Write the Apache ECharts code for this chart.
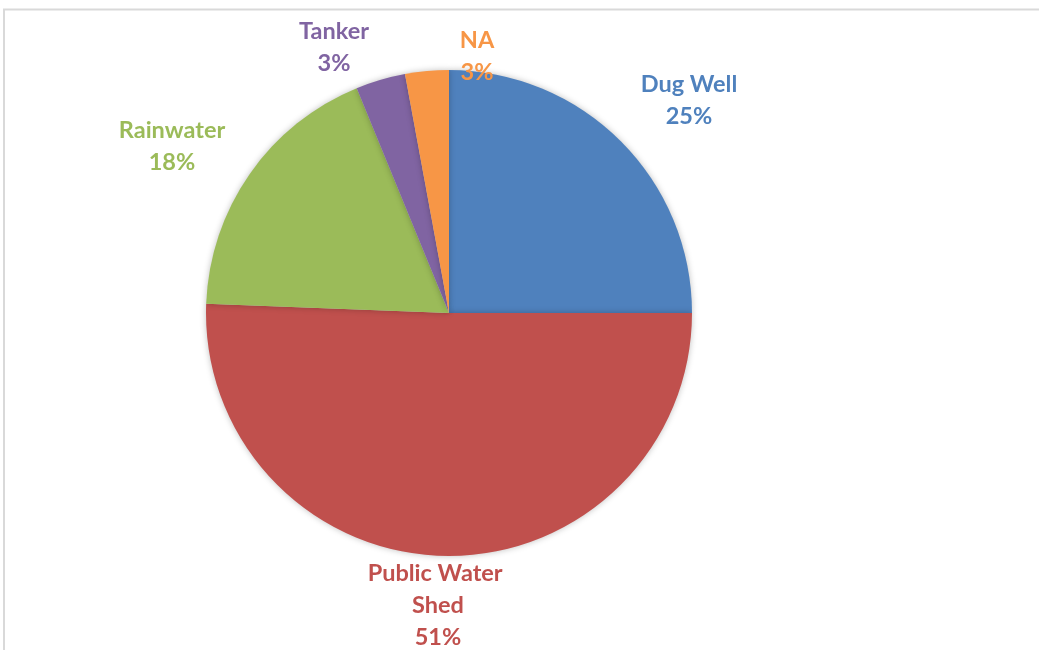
<!DOCTYPE html>
<html lang="en">

<head>
    <meta charset="UTF-8">
    <title>Water source</title>
    <style>
        html, body { margin: 0; padding: 0; background: #fff; }
        #chart { width: 1039px; height: 650px; }
    </style>
</head>

<body>
    <div id="chart"></div>
</body>
<script src="https://cdn.jsdelivr.net/npm/echarts@6/dist/echarts.min.js"></script>
<script type="text/javascript">
    // data (slice sizes estimated from the angles)
    var sources = ['Dug Well', 'Public Water Shed', 'Rainwater', 'Tanker', 'NA'];
    var shares = [25, 50.6, 18.2, 3.3, 2.9];
    var colors = ['#4F81BD', '#C0504D', '#9BBB59', '#8064A2', '#F79646'];

    // where each label sits (center of the text block)
    var labelPos = [[689, 100], [438, 605], [172, 146], [334, 47], [477, 56]];

    var myChart = echarts.init(document.getElementById('chart'));

    var pieData = [];
    sources.forEach(function (name, idx) {
        pieData.push({
            name: name,
            value: shares[idx],
            itemStyle: { color: colors[idx] },
            label: { color: colors[idx] }
        });
    });

    myChart.setOption({
        animation: false,
        graphic: [{
            type: 'polyline',
            shape: { points: [[4, 660], [4, 9.5], [1050, 9.5]] },
            style: { stroke: '#d9d9d9', lineWidth: 2, fill: null },
            silent: true
        }],
        series: [{
            type: 'pie',
            center: [449, 313],
            radius: 243,
            startAngle: 90,
            clockwise: true,
            percentPrecision: 0,
            avoidLabelOverlap: false,
            itemStyle: {
                shadowBlur: 6,
                shadowColor: 'rgba(0,0,0,0.25)'
            },
            label: {
                show: true,
                position: 'outside',
                formatter: '{b}\n{d}%',
                fontFamily: 'Lato',
                fontWeight: 'bold',
                fontSize: 23.5,
                lineHeight: 32,
                width: 160,
                overflow: 'break',
                align: 'center'
            },
            labelLine: { show: false },
            labelLayout: function (params) {
                var p = labelPos[params.dataIndex];
                return { x: p[0], y: p[1], align: 'center', verticalAlign: 'middle', moveOverlap: null };
            },
            emphasis: { disabled: true },
            data: pieData
        }]
    });
</script>

</html>
